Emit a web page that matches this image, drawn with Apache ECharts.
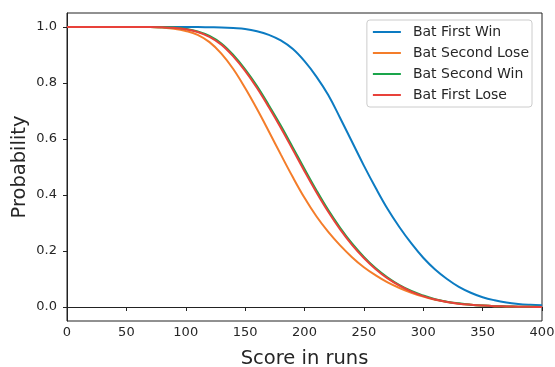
<!DOCTYPE html>
<html>
<head>
<meta charset="utf-8">
<script src="https://cdn.jsdelivr.net/npm/echarts@6/dist/echarts.min.js"></script>
<style>
  html, body { margin: 0; padding: 0; background: #fff; }
  #chart { width: 555px; height: 367px; }
</style>
</head>
<body>
<div id="chart"></div>
<script>
// score in runs, every 10
let runs = [];
for (let r = 0; r <= 400; r += 10) runs.push(r);

// probability at each score
let batFirstWin = [
  1, 1, 1, 1, 1, 1, 1, 1, 1, 1, 1, 1,
  0.999, 0.998, 0.996, 0.993, 0.985, 0.972, 0.952, 0.922, 0.878,
  0.823, 0.757, 0.675, 0.59, 0.505, 0.425, 0.35, 0.285, 0.227, 0.176,
  0.134, 0.1, 0.072, 0.051, 0.035, 0.024, 0.016, 0.011, 0.008, 0.006
];
let batSecondLose = [
  1, 1, 1, 1, 1, 1, 1, 1,
  0.998, 0.994, 0.986, 0.972, 0.946, 0.905, 0.85, 0.782, 0.707, 0.627, 0.545, 0.465, 0.39,
  0.324, 0.268, 0.22, 0.178, 0.142, 0.113, 0.088, 0.068, 0.051, 0.037,
  0.026, 0.018, 0.012, 0.008, 0.005, 0.003, 0.002, 0.001, 0.0006, 0.0003
];
let batSecondWin = [
  1, 1, 1, 1, 1, 1, 1, 1,
  0.999, 0.998, 0.993, 0.984, 0.968, 0.941, 0.9, 0.849, 0.789, 0.72, 0.648, 0.571, 0.493,
  0.417, 0.346, 0.283, 0.227, 0.179, 0.138, 0.105, 0.078, 0.057, 0.041,
  0.028, 0.019, 0.013, 0.008, 0.005, 0.003, 0.002, 0.001, 0.0006, 0.0003
];
let batFirstLose = [
  1, 1, 1, 1, 1, 1, 1, 1,
  0.999, 0.997, 0.992, 0.982, 0.965, 0.937, 0.895, 0.843, 0.782, 0.713, 0.64, 0.563, 0.485,
  0.41, 0.34, 0.277, 0.222, 0.175, 0.135, 0.102, 0.076, 0.055, 0.039,
  0.027, 0.018, 0.012, 0.008, 0.005, 0.003, 0.002, 0.001, 0.0005, 0.0003
];

let yTicks = [0, 0.2, 0.4, 0.6, 0.8, 1.0];
let names = ['Bat First Win', 'Bat Second Lose', 'Bat Second Win', 'Bat First Lose'];
let colors = ['#0c7bc2', '#f47d2a', '#1aa54b', '#e8413a'];
let values = [batFirstWin, batSecondLose, batSecondWin, batFirstLose];

let font = 'DejaVu Sans';
let myChart = echarts.init(document.getElementById('chart'));

let series = names.map(function (n, i) {
  return {
    name: n,
    type: 'line',
    smooth: 0.4,
    showSymbol: false,
    lineStyle: { color: colors[i], width: 2 },
    itemStyle: { color: colors[i] },
    data: runs.map(function (r, k) { return [r, values[i][k]]; })
  };
});

let option = {
  animation: false,
  grid: {
    left: 67, right: 13, top: 13, bottom: 46,
    outerBoundsMode: 'none',
    show: true, borderColor: '#222', borderWidth: 1
  },
  legend: {
    orient: 'vertical',
    right: 23, top: 20,
    data: names,
    icon: 'rect',
    itemWidth: 28, itemHeight: 2,
    itemGap: 5,
    padding: [4, 3, 4, 6],
    borderColor: '#ccc', borderWidth: 1, borderRadius: 3,
    textStyle: { fontFamily: font, fontSize: 14, color: '#262626', padding: [0, 0, 0, 7], lineHeight: 16 }
  },
  xAxis: {
    type: 'value',
    min: 0, max: 400, interval: 50,
    name: 'Score in runs',
    nameLocation: 'middle',
    nameGap: 28,
    nameMoveOverlap: false,
    nameTextStyle: { fontFamily: font, fontSize: 19.5, color: '#262626' },
    splitLine: { show: false },
    axisLine: { lineStyle: { color: '#222' } },
    axisTick: { inside: false, length: 4, lineStyle: { color: '#222' } },
    axisLabel: { fontFamily: font, fontSize: 13, color: '#262626', margin: 5 }
  },
  yAxis: {
    type: 'value',
    min: -0.05, max: 1.05,
    name: 'Probability',
    nameLocation: 'middle',
    nameGap: 37,
    nameMoveOverlap: false,
    nameTextStyle: { fontFamily: font, fontSize: 19.5, color: '#262626' },
    splitLine: { show: false },
    axisLine: { show: true, lineStyle: { color: '#222' } },
    axisTick: { show: true, length: 4, lineStyle: { color: '#222' }, customValues: yTicks },
    axisLabel: {
      fontFamily: font, fontSize: 13, color: '#262626', margin: 10,
      customValues: yTicks,
      formatter: function (v) { return v.toFixed(1); }
    }
  },
  series: series
};
myChart.setOption(option);
</script>
</body>
</html>
